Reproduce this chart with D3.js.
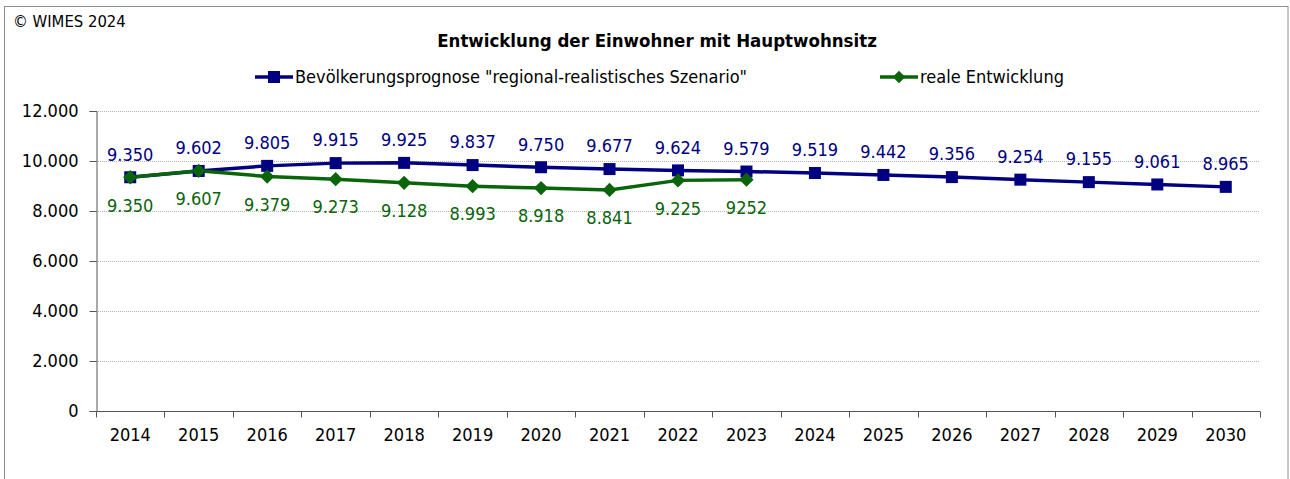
<!DOCTYPE html>
<html><head><meta charset="utf-8">
<script src="https://cdn.jsdelivr.net/npm/d3@7"></script>
<style>body{margin:0;background:#fff}svg{display:block}</style>
</head><body>
<svg id="c" width="1290" height="479"></svg>
<script>
const years = ["2014","2015","2016","2017","2018","2019","2020","2021","2022","2023","2024","2025","2026","2027","2028","2029","2030"];
const prognose = [9350,9602,9805,9915,9925,9837,9750,9677,9624,9579,9519,9442,9356,9254,9155,9061,8965];
const real = [9350,9607,9379,9273,9128,8993,8918,8841,9225,9252];
const realLabels = ["9.350","9.607","9.379","9.273","9.128","8.993","8.918","8.841","9.225","9252"];
const yTicks = [0,2000,4000,6000,8000,10000,12000];
const title = "Entwicklung der Einwohner mit Hauptwohnsitz";
const copyright = "© WIMES 2024";
const seriesNames = ["Bevölkerungsprognose \"regional-realistisches Szenario\"","reale Entwicklung"];

const BLUE = "#000080", GREEN = "#0a640a";
const FONT = "'DejaVu Sans Condensed', 'DejaVu Sans', sans-serif";
const FS = 18;
const svg = d3.select("#c").style("font-family", FONT);
const fmt = v => d3.format(",")(v).replace(/,/g, ".");

svg.append("rect").attr("x",4.5).attr("y",6.5).attr("width",1283.5).attr("height",480)
  .attr("fill","none").attr("stroke","#8c8c8c").attr("stroke-width",1);

const L = 96, R = 1260, T = 111, B = 411;
const x = d3.scaleBand().domain(years).range([L, R]);
const y = d3.scaleLinear().domain([0,12000]).range([B, T]);
const cx = d => x(d) + x.bandwidth()/2;

// gridlines
svg.append("g").selectAll("line").data(yTicks.filter(d=>d>0)).join("line")
  .attr("x1",L).attr("x2",R).attr("y1",d=>Math.round(y(d))+0.5).attr("y2",d=>Math.round(y(d))+0.5)
  .attr("stroke","#b4b4b4").attr("stroke-width",1).attr("stroke-dasharray","1,1");

// y axis
const ya = svg.append("g").attr("transform",`translate(${L+0.5},0)`)
  .call(d3.axisLeft(y).tickValues(yTicks).tickFormat(fmt).tickSize(7).tickPadding(11));
ya.select(".domain").attr("stroke","#555");
ya.selectAll(".tick line").attr("stroke","#555");
ya.selectAll("text").attr("font-size",FS).attr("fill","#000").attr("font-family",FONT);

// x axis
const xa = svg.append("g").attr("transform",`translate(0,${B+0.5})`)
  .call(d3.axisBottom(x).tickSize(0).tickPadding(17));
xa.select(".domain").attr("stroke","#555").attr("d",`M${L},0H${R}`);
xa.selectAll("text").attr("font-size",FS).attr("fill","#000").attr("font-family",FONT);
const bounds = years.map((d,i)=>x(d)).concat([R]);
xa.selectAll(".bt").data(bounds).join("line").attr("class","bt")
  .attr("x1",d=>Math.round(d)+0.5).attr("x2",d=>Math.round(d)+0.5).attr("y1",0).attr("y2",6)
  .attr("stroke","#555");

// lines
const line = d3.line().x((d,i)=>cx(years[i])).y(d=>y(d));
svg.append("path").datum(prognose).attr("d",line).attr("fill","none").attr("stroke",BLUE).attr("stroke-width",3.5);
svg.append("path").datum(real).attr("d",line).attr("fill","none").attr("stroke",GREEN).attr("stroke-width",3.5);

// markers
svg.append("g").selectAll("rect").data(prognose).join("rect")
  .attr("x",(d,i)=>cx(years[i])-6).attr("y",d=>y(d)-6).attr("width",12).attr("height",12).attr("fill",BLUE);
const diamond = d3.symbol().type(d3.symbolDiamond2).size(130);
svg.append("g").selectAll("path").data(real).join("path")
  .attr("d",diamond).attr("transform",(d,i)=>`translate(${cx(years[i])},${y(d)})`).attr("fill",GREEN);

// labels
svg.append("g").selectAll("text").data(prognose).join("text")
  .attr("x",(d,i)=>cx(years[i])).attr("y",d=>y(d)-23).attr("dy","0.35em")
  .attr("text-anchor","middle").attr("font-size",FS).attr("fill",BLUE).text(fmt);
svg.append("g").selectAll("text").data(real).join("text")
  .attr("x",(d,i)=>cx(years[i])).attr("y",d=>y(d)+28).attr("dy","0.35em")
  .attr("text-anchor","middle").attr("font-size",FS).attr("fill",GREEN).text((d,i)=>realLabels[i]);

// title & copyright
svg.append("text").attr("x",657).attr("y",47).attr("text-anchor","middle")
  .attr("font-size",18.5).attr("font-weight","bold").attr("fill","#000").text(title);
svg.append("text").attr("x",13).attr("y",27).attr("font-size",16.5).attr("fill","#000").text(copyright);

// legend
const lg = svg.append("g");
const legendItems = [{x:255, c:BLUE, t:seriesNames[0], m:"sq"},{x:880, c:GREEN, t:seriesNames[1], m:"di"}];
legendItems.forEach(it=>{
  lg.append("line").attr("x1",it.x).attr("x2",it.x+38).attr("y1",77).attr("y2",77).attr("stroke",it.c).attr("stroke-width",3.5);
  if(it.m==="sq") lg.append("rect").attr("x",it.x+13).attr("y",71).attr("width",12).attr("height",12).attr("fill",it.c);
  else lg.append("path").attr("d",d3.symbol().type(d3.symbolDiamond2).size(100)).attr("transform",`translate(${it.x+19},77)`).attr("fill",it.c);
  lg.append("text").attr("x",it.x+40).attr("y",77).attr("dy","0.35em").attr("font-size",FS).attr("fill","#000").text(it.t);
});
</script>
</body></html>
